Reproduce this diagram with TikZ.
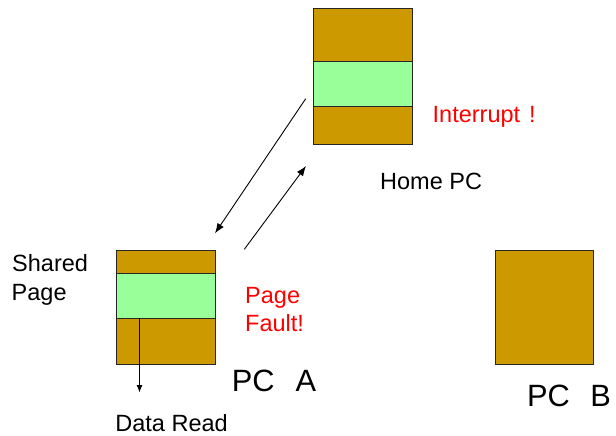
\documentclass[tikz,border=0pt]{standalone}
\usepackage{fontspec}
\setmainfont{Liberation Sans}
\usetikzlibrary{arrows.meta}
\definecolor{pagebrown}{HTML}{CC9900}
\definecolor{pagegreen}{HTML}{99FF99}
\definecolor{alertred}{HTML}{FF0000}
\tikzset{
  membox/.style={draw=black!85, line width=0.9pt, fill=pagebrown, rectangle, inner sep=0pt, anchor=north west},
  sharedband/.style={draw=black!85, line width=0.9pt, fill=pagegreen, rectangle, inner sep=0pt, anchor=north west},
  label/.style={inner sep=0pt, anchor=base west, font=\fontsize{23.5}{28}\selectfont},
  biglabel/.style={inner sep=0pt, anchor=base west, font=\fontsize{30.8}{36}\selectfont},
  msgarrow/.style={line width=0.9pt, -{Latex[length=10pt,width=7.5pt]}},
  readarrow/.style={line width=0.9pt, -{Latex[length=7.5pt,width=6pt]}}
}
\begin{document}
\begin{tikzpicture}[x=1pt,y=-1pt]
  \useasboundingbox (0,0) rectangle (616,436);

  % home machine memory with the shared page
  \node[membox, minimum width=98.5pt, minimum height=136pt] (home) at (313,8) {};
  \node[sharedband, minimum width=98.5pt, minimum height=45pt] (homepage) at (313,61) {};

  % machine A memory with the shared page
  \node[membox, minimum width=99pt, minimum height=114pt] (pca) at (116,249.5) {};
  \node[sharedband, minimum width=99pt, minimum height=45pt] (pcapage) at (116,272.5) {};

  % machine B memory
  \node[membox, minimum width=98pt, minimum height=113.5pt] (pcb) at (494.5,250) {};

  % request and reply between A and the home machine
  \coordinate (replystart) at (305.7,98.7);
  \coordinate (replyend) at (215,233.3);
  \coordinate (reqstart) at (244.3,249.3);
  \coordinate (reqend) at (306,166);
  \draw[msgarrow] (replystart) -- (replyend);
  \draw[msgarrow] (reqstart) -- (reqend);

  % data read out of the shared page on A
  \coordinate (readstart) at (139.5,317.5);
  \coordinate (readend) at (139.5,392.5);
  \draw[readarrow] (readstart) -- (readend);

  % texts
  \node[label, text=alertred] (interrupt) at (432.5,122.7) {Interrupt\hspace{2.5pt} !};
  \node[label] (homepc) at (380,189.5) {Home PC};
  \node[label] (shared1) at (12,271.7) {Shared};
  \node[label] (shared2) at (11.5,300) {Page};
  \node[label, text=alertred] (fault1) at (245,303.3) {Page};
  \node[label, text=alertred] (fault2) at (245,331.7) {Fault!};
  \node[biglabel] (pcalabel) at (231.7,391) {PC\hspace{21pt}A};
  \node[biglabel] (pcblabel) at (527,406.7) {PC\hspace{20.5pt}B};
  \node[label] (dataread) at (115.2,431.5) {Data Read};
\end{tikzpicture}
\end{document}
